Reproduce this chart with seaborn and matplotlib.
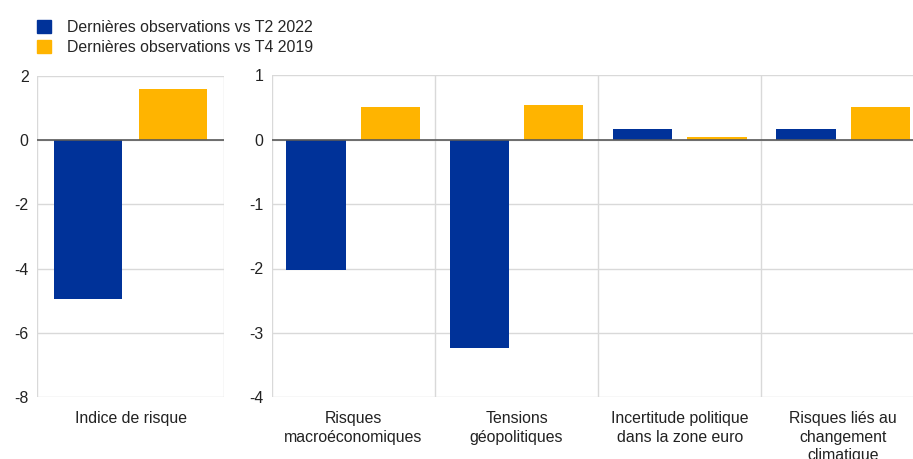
import matplotlib
matplotlib.use("Agg")
import matplotlib.pyplot as plt
import seaborn as sns
import pandas as pd

# Series labels and colours
series = ["Dernières observations vs T2 2022", "Dernières observations vs T4 2019"]
colors = ["#003299", "#FFB400"]

# Composite index panel
index_cats = ["Indice de risque"]
index_vs_2022 = [-4.94]
index_vs_2019 = [1.58]

# Risk components panel
comp_cats = ["Risques\nmacroéconomiques", "Tensions\ngéopolitiques",
             "Incertitude politique\ndans la zone euro",
             "Risques liés au\nchangement\nclimatique"]
comp_vs_2022 = [-2.03, -3.23, 0.17, 0.17]
comp_vs_2019 = [0.50, 0.54, 0.04, 0.50]

left_ticks = [2, 0, -2, -4, -6, -8]
right_ticks = [1, 0, -1, -2, -3, -4]


def long_frame(cats, a, b):
    return pd.DataFrame({
        "cat": cats * 2,
        "serie": [series[0]] * len(cats) + [series[1]] * len(cats),
        "val": list(a) + list(b),
    })


sns.set_theme(style="white")
plt.rcParams["font.family"] = ["Liberation Sans", "DejaVu Sans"]
plt.rcParams["font.size"] = 11.4

fig = plt.figure(figsize=(9.13, 4.59), dpi=100)
ax1 = fig.add_axes([37 / 913, 1 - 397 / 459, 187 / 913, 321 / 459])
ax2 = fig.add_axes([271.7 / 913, 1 - 397.3 / 459, 653 / 913, 322 / 459])

grid_c = "#d9d9d9"
for ax, cats, a, b, ticks in [
    (ax1, index_cats, index_vs_2022, index_vs_2019, left_ticks),
    (ax2, comp_cats, comp_vs_2022, comp_vs_2019, right_ticks),
]:
    df = long_frame(cats, a, b)
    sns.barplot(data=df, x="cat", y="val", hue="serie", hue_order=series,
                palette=colors, width=0.91, gap=0.2, ax=ax,
                linewidth=0, saturation=1, zorder=3)
    ax.set_xlim(-0.5, len(cats) - 0.5)
    ax.set_ylim(min(ticks), max(ticks))
    ax.set_yticks(ticks)
    ax.set_yticklabels([str(t) for t in ticks], fontsize=11.4, color="#222222")
    ax.tick_params(axis="both", length=0, pad=6)
    ax.tick_params(axis="x", labelsize=11.4, labelcolor="#222222", pad=10)
    for lbl in ax.get_xticklabels():
        lbl.set_linespacing(1.3)
    ax.set_xlabel("")
    ax.set_ylabel("")
    for s in ax.spines.values():
        s.set_visible(False)
    for t in ticks:
        ax.axhline(t, color=grid_c, lw=1, zorder=1)
    for xv in [k - 0.5 for k in range(len(cats) + 1)]:
        ax.axvline(xv, color=grid_c, lw=1, zorder=1)
    ax.axhline(0, color="#595959", lw=1.2, zorder=5)
    if ax.get_legend() is not None:
        ax.get_legend().remove()

handles = [plt.Rectangle((0, 0), 1, 1, color=c) for c in colors]
fig.legend(handles, series, loc="upper left", bbox_to_anchor=(0.0333, 0.9695),
           frameon=False, fontsize=11.4, handlelength=0.9, handleheight=0.9,
           handletextpad=1.0, labelspacing=0.3, borderaxespad=0)

fig.savefig("out.png", dpi=100)
